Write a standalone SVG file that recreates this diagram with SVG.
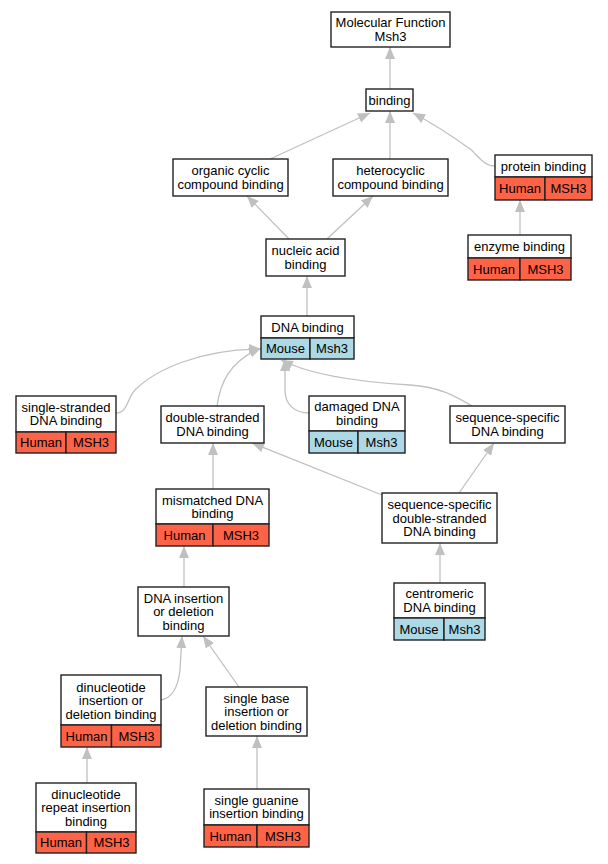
<svg xmlns="http://www.w3.org/2000/svg" width="608" height="864" viewBox="0 0 608 864">
<style>
.bg{fill:#ffffff}
.box{fill:#ffffff;stroke:#222;stroke-width:1.4}
.hum{fill:#ff6347;stroke:#222;stroke-width:1.4}
.mou{fill:#add8e6;stroke:#222;stroke-width:1.4}
text{font-family:"Liberation Sans",Arial,sans-serif;font-size:13px;fill:#000;text-anchor:middle}
.e{fill:none;stroke:#c0c0c0;stroke-width:1.3;marker-end:url(#ah)}
</style>
<defs>
<marker id="ah" markerUnits="userSpaceOnUse" markerWidth="13" markerHeight="11" refX="12" refY="5" orient="auto" viewBox="0 0 13 11">
<path d="M0,0 L12,5 L0,10 z" fill="#c0c0c0"/>
</marker>
</defs>
<rect class="bg" x="0" y="0" width="608" height="864"/>
<g id="edges">
<path class="e" d="M390,89 L390,47"/>
<path class="e" d="M270,159 L370,113"/>
<path class="e" d="M390,159 L390,111"/>
<path class="e" d="M495,166 C483,166 478,155 470,149 C455,138 430,122 413,113"/>
<path class="e" d="M520,235 L520,200"/>
<path class="e" d="M289,239 L247,196"/>
<path class="e" d="M327,239 L373,196"/>
<path class="e" d="M307,316 L307,276"/>
<path class="e" d="M116,413 C128,413 127,398 135,390 C155,370 200,349 261,349"/>
<path class="e" d="M217,406 C220,385 228,362 261,348"/>
<path class="e" d="M309,413 C295,413 285,405 285,390 L285,359"/>
<path class="e" d="M472,406 C455,396 440,387 410,385 C360,382 310,375 281,360"/>
<path class="e" d="M382,495 L252,443"/>
<path class="e" d="M459,493 L494,443"/>
<path class="e" d="M213,489 L213,443"/>
<path class="e" d="M184,587 L184,546"/>
<path class="e" d="M440,583 L440,543"/>
<path class="e" d="M161,700 C172,698 178,688 180,670 L182,636"/>
<path class="e" d="M239,687 L203,636"/>
<path class="e" d="M87,783 L87,747"/>
<path class="e" d="M257,789 L257,736"/>
</g>
<g id="mf">
<rect class="box" x="331" y="12" width="119" height="35"/>
<text x="390.5" y="27">Molecular Function</text>
<text x="390.5" y="41">Msh3</text>
</g>
<g id="binding">
<rect class="box" x="366" y="89" width="47" height="22"/>
<text x="389.5" y="104.5">binding</text>
</g>
<g id="organic">
<rect class="box" x="173" y="159" width="115" height="37"/>
<text x="230.5" y="175">organic cyclic</text>
<text x="230.5" y="189">compound binding</text>
</g>
<g id="heterocyclic">
<rect class="box" x="333" y="159" width="115" height="37"/>
<text x="390.5" y="175">heterocyclic</text>
<text x="390.5" y="189">compound binding</text>
</g>
<g id="protein">
<rect class="box" x="495" y="155" width="97" height="22"/>
<rect class="hum" x="495" y="177" width="50" height="23"/>
<rect class="hum" x="545" y="177" width="47" height="23"/>
<text x="543.5" y="170.5">protein binding</text>
<text x="520" y="193">Human</text>
<text x="568.5" y="193">MSH3</text>
</g>
<g id="enzyme">
<rect class="box" x="468" y="235" width="103" height="23"/>
<rect class="hum" x="468" y="258" width="52" height="22"/>
<rect class="hum" x="520" y="258" width="51" height="22"/>
<text x="519.5" y="251">enzyme binding</text>
<text x="494" y="273.5">Human</text>
<text x="545.5" y="273.5">MSH3</text>
</g>
<g id="nucleic">
<rect class="box" x="266" y="239" width="79" height="37"/>
<text x="305.5" y="255">nucleic acid</text>
<text x="305.5" y="268.5">binding</text>
</g>
<g id="dna">
<rect class="box" x="261" y="316" width="93" height="22"/>
<rect class="mou" x="261" y="338" width="49" height="21"/>
<rect class="mou" x="310" y="338" width="44" height="21"/>
<text x="307.5" y="331.5">DNA binding</text>
<text x="285.5" y="353">Mouse</text>
<text x="332" y="353">Msh3</text>
</g>
<g id="single_stranded">
<rect class="box" x="16" y="396" width="100" height="36"/>
<rect class="hum" x="16" y="432" width="50" height="21"/>
<rect class="hum" x="66" y="432" width="50" height="21"/>
<text x="66" y="411.5">single-stranded</text>
<text x="66" y="425">DNA binding</text>
<text x="41" y="447">Human</text>
<text x="91" y="447">MSH3</text>
</g>
<g id="double_stranded">
<rect class="box" x="161" y="406" width="103" height="37"/>
<text x="212.5" y="422">double-stranded</text>
<text x="212.5" y="435.5">DNA binding</text>
</g>
<g id="damaged">
<rect class="box" x="309" y="396" width="96" height="35"/>
<rect class="mou" x="309" y="431" width="49" height="22"/>
<rect class="mou" x="358" y="431" width="47" height="22"/>
<text x="357" y="411">damaged DNA</text>
<text x="357" y="424.5">binding</text>
<text x="333.5" y="446.5">Mouse</text>
<text x="381.5" y="446.5">Msh3</text>
</g>
<g id="seq_specific">
<rect class="box" x="450" y="406" width="115" height="37"/>
<text x="507.5" y="422">sequence-specific</text>
<text x="507.5" y="435.5">DNA binding</text>
</g>
<g id="mismatched">
<rect class="box" x="156" y="489" width="113" height="35"/>
<rect class="hum" x="156" y="524" width="57" height="22"/>
<rect class="hum" x="213" y="524" width="56" height="22"/>
<text x="212.5" y="504.5">mismatched DNA</text>
<text x="212.5" y="518">binding</text>
<text x="184.5" y="540">Human</text>
<text x="241" y="540">MSH3</text>
</g>
<g id="seq_ds">
<rect class="box" x="382" y="493" width="115" height="50"/>
<text x="439.5" y="509">sequence-specific</text>
<text x="439.5" y="522.5">double-stranded</text>
<text x="439.5" y="536">DNA binding</text>
</g>
<g id="indel">
<rect class="box" x="138" y="587" width="91" height="49"/>
<text x="183.5" y="602.5">DNA insertion</text>
<text x="183.5" y="616">or deletion</text>
<text x="183.5" y="629.5">binding</text>
</g>
<g id="centromeric">
<rect class="box" x="394" y="583" width="91" height="35"/>
<rect class="mou" x="394" y="618" width="50" height="22"/>
<rect class="mou" x="444" y="618" width="41" height="22"/>
<text x="439.5" y="598">centromeric</text>
<text x="439.5" y="611.5">DNA binding</text>
<text x="419" y="633.5">Mouse</text>
<text x="464.5" y="633.5">Msh3</text>
</g>
<g id="dinuc">
<rect class="box" x="61" y="675" width="100" height="50"/>
<rect class="hum" x="61" y="725" width="50.5" height="22"/>
<rect class="hum" x="111.5" y="725" width="49.5" height="22"/>
<text x="111" y="691.5">dinucleotide</text>
<text x="111" y="705">insertion or</text>
<text x="111" y="718.5">deletion binding</text>
<text x="86.5" y="740.5">Human</text>
<text x="136.5" y="740.5">MSH3</text>
</g>
<g id="single_base">
<rect class="box" x="206" y="687" width="101" height="49"/>
<text x="256.5" y="702.5">single base</text>
<text x="256.5" y="716">insertion or</text>
<text x="256.5" y="729.5">deletion binding</text>
</g>
<g id="dinuc_repeat">
<rect class="box" x="36" y="783" width="100" height="49"/>
<rect class="hum" x="36" y="832" width="50.5" height="21"/>
<rect class="hum" x="86.5" y="832" width="49.5" height="21"/>
<text x="86" y="798.5">dinucleotide</text>
<text x="86" y="812">repeat insertion</text>
<text x="86" y="825.5">binding</text>
<text x="61" y="846.5">Human</text>
<text x="111.5" y="846.5">MSH3</text>
</g>
<g id="single_guanine">
<rect class="box" x="204" y="789" width="105" height="36"/>
<rect class="hum" x="204" y="825" width="53" height="22"/>
<rect class="hum" x="257" y="825" width="52" height="22"/>
<text x="256.5" y="804.5">single guanine</text>
<text x="256.5" y="818">insertion binding</text>
<text x="230.5" y="840.5">Human</text>
<text x="283" y="840.5">MSH3</text>
</g>
</svg>
